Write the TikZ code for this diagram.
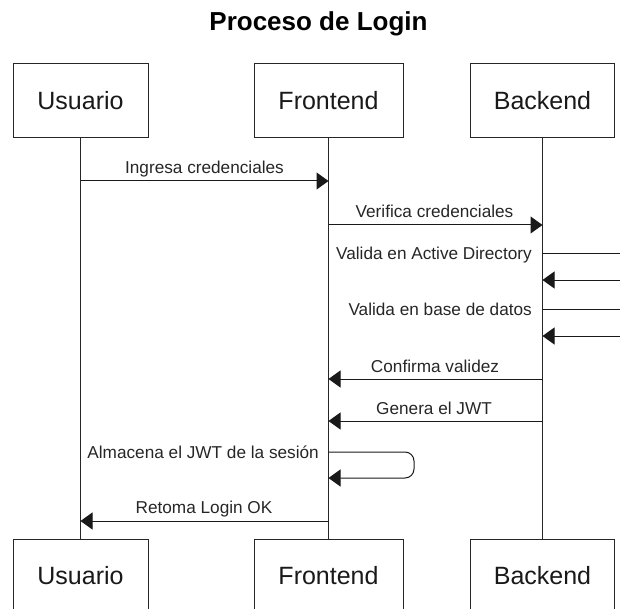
\documentclass[tikz,border=0pt]{standalone}
\usepackage{fontspec}
\setmainfont{Liberation Sans}
\usetikzlibrary{arrows.meta}
\begin{document}
\begin{tikzpicture}[x=1pt,y=-1pt,
  actor/.style={draw=black!85, line width=1pt, minimum height=74pt,
    inner sep=0pt, font=\fontsize{25}{30}\selectfont, text=black!90},
  lifeline/.style={draw=black!85, line width=1pt},
  msg/.style={draw=black!90, line width=1pt, -{Triangle[length=12pt,width=17pt]}},
  wire/.style={draw=black!90, line width=1pt},
  lbl/.style={font=\fontsize{17.2}{20}\selectfont, text=black!85, inner sep=0pt}]
\clip (0,0) rectangle (620,609);
\useasboundingbox (0,0) rectangle (620,609);

% title
\node[font=\bfseries\fontsize{26}{30}\selectfont, anchor=base] (title) at (318.5,31) {Proceso de Login};

% participants, top row
\node[actor, minimum width=135pt] (u)  at (80.5,101) {Usuario};
\node[actor, minimum width=149pt] (f)  at (328.5,101) {Frontend};
\node[actor, minimum width=144pt] (b)  at (542.5,101) {Backend};
% participants, bottom row
\node[actor, minimum width=135pt] (u2) at (80.5,576) {Usuario};
\node[actor, minimum width=149pt] (f2) at (328.5,576) {Frontend};
\node[actor, minimum width=144pt] (b2) at (542.5,576) {Backend};

% lifelines
\draw[lifeline] (u) -- (u2);
\draw[lifeline] (f) -- (f2);
\draw[lifeline] (b) -- (b2);

% points on the lifelines
\coordinate (u1) at (u |- 0,181);  \coordinate (f1) at (f |- 0,181);
\coordinate (f2a) at (f |- 0,225); \coordinate (b2a) at (b |- 0,225);
\coordinate (b3) at (b |- 0,254);  \coordinate (x3) at (620,254);
\coordinate (b4) at (b |- 0,280);  \coordinate (x4) at (620,280);
\coordinate (b5) at (b |- 0,309);  \coordinate (x5) at (620,309);
\coordinate (b6) at (b |- 0,336);  \coordinate (x6) at (620,336);
\coordinate (b7) at (b |- 0,379);  \coordinate (f7) at (f |- 0,379);
\coordinate (b8) at (b |- 0,421);  \coordinate (f8) at (f |- 0,421);
\coordinate (f9) at (f |- 0,452);  \coordinate (f9e) at (f |- 0,478);
\coordinate (f10) at (f |- 0,521); \coordinate (u10) at (u |- 0,521);

% messages
\draw[msg] (u1) -- (f1);
\node[lbl, anchor=base] (l1) at (204.5,173.5) {Ingresa credenciales};

\draw[msg] (f2a) -- (b2a);
\node[lbl, anchor=base] (l2) at (434.5,217.5) {Verifica credenciales};

\draw[wire] (b3) -- (x3);
\node[lbl, anchor=base east] (l3) at (532,260) {Valida en Active Directory};
\draw[msg] (x4) -- (b4);

\draw[wire] (b5) -- (x5);
\node[lbl, anchor=base east] (l5) at (532,315) {Valida en base de datos};
\draw[msg] (x6) -- (b6);

\draw[msg] (b7) -- (f7);
\node[lbl, anchor=base] (l7) at (435,372.5) {Confirma validez};

\draw[msg] (b8) -- (f8);
\node[lbl, anchor=base] (l8) at (434,414.5) {Genera el JWT};

\draw[msg, rounded corners=9pt] (f9) -- (414,452) -- (414,478) -- (f9e);
\node[lbl, anchor=base east] (l9) at (319,458.5) {Almacena el JWT de la sesión};

\draw[msg] (f10) -- (u10);
\node[lbl, anchor=base] (l10) at (204,513.5) {Retoma Login OK};
\end{tikzpicture}
\end{document}
